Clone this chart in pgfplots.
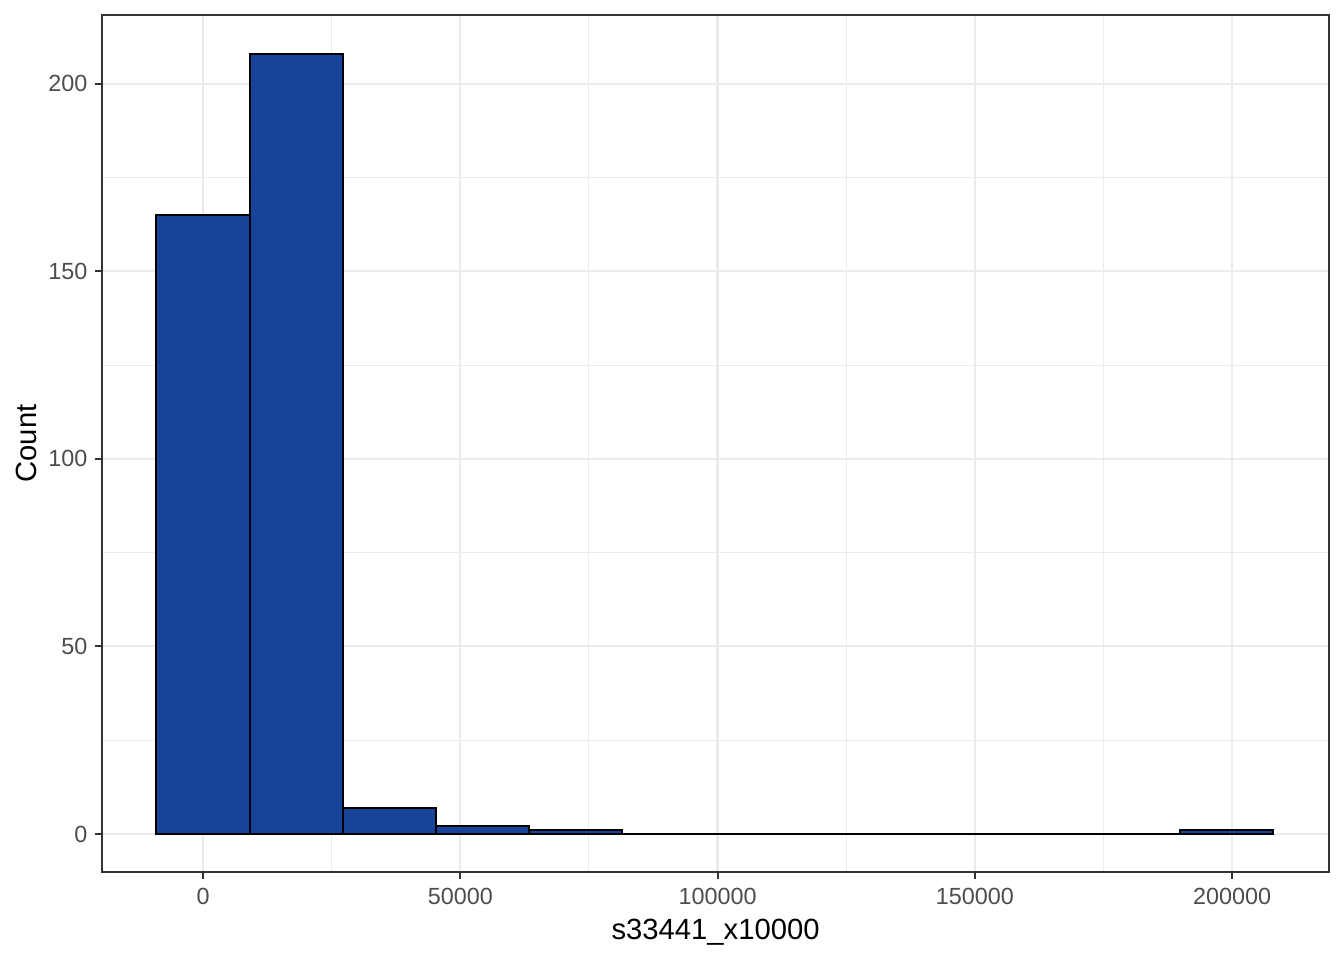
\documentclass[border=0pt]{standalone}
\usepackage{pgfplots}
\pgfplotsset{compat=1.18}
\usepackage{fontspec}
\setmainfont{Liberation Sans}
\definecolor{barfill}{RGB}{23,67,152}
\definecolor{gridc}{RGB}{235,235,235}
\definecolor{gray20}{RGB}{51,51,51}
\definecolor{gray30}{RGB}{77,77,77}
\begin{document}
\begin{tikzpicture}
\begin{axis}[
  at={(0,0)}, anchor=south west,
  scale only axis, width=460.1bp, height=321.4bp,
  xmin=-19631, xmax=218853, ymin=-10.13, ymax=218.4,
  xtick={0,50000,100000,150000,200000},
  minor xtick={25000,75000,125000,175000},
  ytick={0,50,100,150,200},
  minor ytick={25,75,125,175},
  grid=both,
  major grid style={gridc, line width=0.8bp},
  minor grid style={gridc, line width=0.4bp},
  axis line style={gray20, line width=0.75bp},
  tick align=outside, tick pos=left,
  major tick length=2.75pt, minor tick length=0pt,
  major tick style={gray20, line width=0.75bp},
  scaled x ticks=false,
  /pgf/number format/assume math mode=true,
  /pgf/number format/fixed,
  /pgf/number format/1000 sep={},
  ticklabel style={font=\fontsize{8.8}{10}\selectfont, text=gray30, inner sep=0pt},
  xticklabel style={anchor=north, yshift=-3.3bp},
  yticklabel style={anchor=east, xshift=-2.5bp},
  xlabel={s33441\_x10000}, ylabel={Count},
  label style={font=\fontsize{11}{13}\selectfont, text=black},
  xlabel style={at={(axis description cs:0.5,0)}, anchor=base, yshift=-25.5bp},
  ylabel style={at={(axis description cs:0,0.5)}, anchor=base, yshift=24.4bp},
]
\addplot[ybar interval, draw=black, fill=barfill, line width=0.75bp] coordinates {
  (-9042.5,165) (9042.5,208) (27127.5,7) (45212.5,2) (63297.5,1)
  (81382.5,0) (99467.5,0) (117552.5,0) (135637.5,0) (153722.5,0)
  (171807.5,0) (189892.5,1) (207977.5,1)
};
\end{axis}
\pgfresetboundingbox
\path (-38.25bp,-33bp) rectangle (465.7bp,326.95bp);
\end{tikzpicture}
\end{document}
